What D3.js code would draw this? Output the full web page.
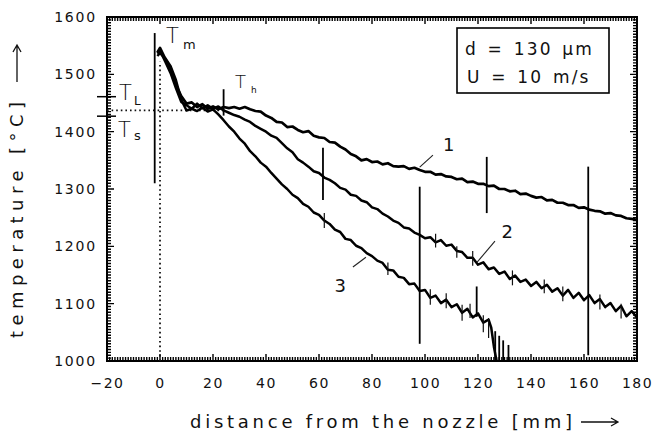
<!DOCTYPE html>
<html>
<head>
<meta charset="utf-8">
<script src="https://cdn.jsdelivr.net/npm/d3@7"></script>
<style>
  body { margin: 0; background: #fff; }
  svg { display: block; font-family: "DejaVu Sans", sans-serif; }
</style>
</head>
<body>
<svg width="657" height="438"></svg>
<script>
// tick labels
const xTicks = [-20, 0, 20, 40, 60, 80, 100, 120, 140, 160, 180];
const yTicks = [1000, 1100, 1200, 1300, 1400, 1500, 1600];

// sampling positions (mm)
const dist = [-1, 0, 2, 4, 6, 8, 10, 12, 14, 16, 18, 20, 22, 24, 26, 28, 30, 32, 34, 36, 38, 40,
  42, 44, 46, 48, 50, 52, 54, 56, 58, 60, 62, 64, 66, 68, 70, 72, 74, 76, 78, 80,
  82, 84, 86, 88, 90, 92, 94, 96, 98, 100, 102, 104, 106, 108, 110, 112, 114, 116, 118, 120,
  122, 124, 126, 128, 130, 132, 134, 136, 138, 140, 142, 144, 146, 148, 150, 152, 154, 156, 158, 160,
  162, 164, 166, 168, 170, 172, 174, 176, 178, 180];
const dist3 = [-1, 0, 2, 4, 6, 8, 10, 12, 14, 16, 18, 20, 22, 24, 26, 28, 30, 32, 34, 36, 38, 40,
  42, 44, 46, 48, 50, 52, 54, 56, 58, 60, 62, 64, 66, 68, 70, 72, 74, 76, 78, 80,
  82, 84, 86, 88, 90, 92, 94, 96, 98, 100, 102, 104, 106, 108, 110, 112, 114, 116, 118, 120,
  122, 124, 125, 126, 127];

// temperatures (°C)
const temp1 = [1538, 1546, 1527, 1510, 1482, 1462, 1449, 1451, 1443, 1448, 1440, 1444, 1439, 1443, 1441, 1443, 1440, 1443, 1439, 1436, 1435, 1428,
  1424, 1417, 1416, 1408, 1409, 1403, 1399, 1401, 1393, 1390, 1389, 1382, 1381, 1374, 1369, 1361, 1357, 1350, 1352, 1347,
  1348, 1343, 1345, 1340, 1339, 1340, 1335, 1337, 1333, 1330, 1330, 1325, 1326, 1322, 1321, 1317, 1318, 1312, 1313, 1309,
  1309, 1305, 1306, 1300, 1300, 1296, 1297, 1291, 1292, 1288, 1285, 1286, 1280, 1281, 1276, 1276, 1272, 1272, 1267, 1268,
  1264, 1262, 1261, 1257, 1258, 1254, 1253, 1249, 1248, 1246];
const temp2 = [1536, 1541, 1522, 1502, 1476, 1452, 1446, 1440, 1449, 1441, 1446, 1440, 1444, 1437, 1433, 1429, 1426, 1421, 1417, 1410, 1405, 1400,
  1393, 1389, 1380, 1371, 1364, 1352, 1346, 1339, 1331, 1328, 1320, 1316, 1310, 1302, 1299, 1290, 1288, 1280, 1277, 1268,
  1265, 1257, 1252, 1245, 1241, 1233, 1231, 1224, 1220, 1214, 1216, 1207, 1211, 1201, 1203, 1192, 1190, 1180, 1180, 1168,
  1172, 1160, 1163, 1152, 1156, 1143, 1149, 1138, 1142, 1131, 1138, 1127, 1133, 1121, 1127, 1114, 1124, 1110, 1119, 1106,
  1115, 1101, 1108, 1094, 1101, 1087, 1096, 1078, 1087, 1076];
const temp3 = [1532, 1537, 1528, 1514, 1490, 1456, 1437, 1440, 1436, 1442, 1435, 1439, 1430, 1420, 1409, 1400, 1388, 1379, 1366, 1357, 1346, 1339,
  1328, 1318, 1308, 1300, 1290, 1284, 1274, 1269, 1259, 1255, 1245, 1239, 1229, 1225, 1213, 1211, 1201, 1197, 1188, 1183,
  1175, 1171, 1159, 1158, 1147, 1145, 1134, 1135, 1122, 1124, 1110, 1114, 1101, 1107, 1094, 1099, 1084, 1091, 1076, 1083,
  1067, 1072, 1058, 1025, 1000];

// thermocouple spikes: position, low end, high end
const spikeX = [-2, 24, 61.5, 98, 119.5, 123.3, 161.6, 126.5, 128, 129.5, 131.5];
const spikeLo = [1310, 1428, 1281, 1030, 1077, 1258, 1010, 1000, 1000, 1000, 1000];
const spikeHi = [1572, 1474, 1372, 1304, 1130, 1356, 1339, 1052, 1044, 1036, 1028];

// short noise hairs on curves 2 and 3
const hairX = [104, 112, 118, 133, 145, 152, 166, 174, 62, 86, 102, 108, 114, 117, 122, 124];
const hairLo = [1198, 1180, 1166, 1132, 1118, 1104, 1090, 1074, 1232, 1150, 1098, 1092, 1070, 1075, 1050, 1040];
const hairHi = [1222, 1200, 1192, 1158, 1142, 1130, 1116, 1100, 1258, 1172, 1125, 1118, 1098, 1100, 1080, 1075];

// curve numbers and their leader lines
const curveNames = ['1', '2', '3'];
const nameX = [109, 131, 68];
const nameT = [1378, 1226, 1132];
const leadX0 = [98, 119.6, 72.8], leadT0 = [1338, 1172, 1164];
const leadX1 = [103, 126.4, 77.7], leadT1 = [1359, 1209, 1181];

const legendLines = ['d = 130 \u03bcm', 'U = 10 m/s'];

const svg = d3.select('svg');
const x = d3.scaleLinear().domain([-20, 180]).range([107, 637]);
const y = d3.scaleLinear().domain([1000, 1600]).range([361, 17]);
const plotL = x(-20), plotR = x(180), plotB = y(1000), plotT = y(1600);

// tick labels
svg.append('g').attr('transform', `translate(0,${plotB})`)
  .call(d3.axisBottom(x).tickValues(xTicks).tickSize(0).tickPadding(17)
    .tickFormat(d => d < 0 ? '\u2212' + (-d) : String(d)))
  .call(g => g.select('.domain').remove())
  .selectAll('text').attr('font-size', 14).attr('font-family', '"DejaVu Sans", sans-serif')
  .attr('letter-spacing', 1.5).attr('fill', '#111');
svg.append('g').attr('transform', `translate(${plotL},0)`)
  .call(d3.axisLeft(y).tickValues(yTicks).tickSize(0).tickPadding(10).tickFormat(d3.format('d')))
  .call(g => g.select('.domain').remove())
  .selectAll('text').attr('font-size', 14).attr('font-family', '"DejaVu Sans", sans-serif')
  .attr('letter-spacing', 1.8).attr('fill', '#111');

// frame
svg.append('rect').attr('x', plotL).attr('y', plotT)
  .attr('width', plotR - plotL).attr('height', plotB - plotT)
  .attr('fill', 'none').attr('stroke', '#000').attr('stroke-width', 2);

// inward ticks on all four sides, one path
const tp = d3.path();
function xMarks(vals, len) {
  for (const v of vals) {
    tp.moveTo(x(v), plotB); tp.lineTo(x(v), plotB - len);
    tp.moveTo(x(v), plotT); tp.lineTo(x(v), plotT + len);
  }
}
function yMarks(vals, len) {
  for (const v of vals) {
    tp.moveTo(plotL, y(v)); tp.lineTo(plotL + len, y(v));
    tp.moveTo(plotR, y(v)); tp.lineTo(plotR - len, y(v));
  }
}
xMarks(x.ticks(200), 4);
yMarks(y.ticks(120), 4);
xMarks(xTicks, 7);
yMarks(yTicks, 7);
svg.append('path').attr('d', tp.toString())
  .attr('fill', 'none').attr('stroke', '#000').attr('stroke-width', 1.4);

// dotted guide lines (nozzle position, solidus/liquidus level)
svg.append('line').attr('x1', x(0)).attr('x2', x(0)).attr('y1', plotB).attr('y2', y(1522))
  .attr('stroke', '#111').attr('stroke-width', 1.8).attr('stroke-dasharray', '1.6,3');
svg.append('line').attr('x1', plotL).attr('x2', x(24)).attr('y1', y(1437)).attr('y2', y(1437))
  .attr('stroke', '#111').attr('stroke-width', 1.8).attr('stroke-dasharray', '1.6,3');

// T_L and T_s marks on the axis
[1461, 1427].forEach(t => {
  svg.append('line').attr('x1', 97).attr('x2', 116).attr('y1', y(t)).attr('y2', y(t))
    .attr('stroke', '#000').attr('stroke-width', 1.5);
});

svg.append('clipPath').attr('id', 'plot').append('rect')
  .attr('x', plotL).attr('y', plotT).attr('width', plotR - plotL).attr('height', plotB - plotT);

const line = d3.line().x(d => x(d[0])).y(d => y(d[1]));
const series = [d3.zip(dist, temp1), d3.zip(dist, temp2), d3.zip(dist3, temp3)];
const plot = svg.append('g').attr('clip-path', 'url(#plot)');
plot.selectAll('path.curve').data(series).join('path')
  .attr('class', 'curve')
  .attr('d', line)
  .attr('fill', 'none').attr('stroke', '#000').attr('stroke-width', (d, i) => i ? 2.5 : 2.7)
  .attr('stroke-linejoin', 'round');

plot.selectAll('line.spike').data(spikeX).join('line')
  .attr('class', 'spike')
  .attr('x1', d => x(d)).attr('x2', d => x(d))
  .attr('y1', (d, i) => y(spikeLo[i])).attr('y2', (d, i) => y(spikeHi[i]))
  .attr('stroke', '#000').attr('stroke-width', 1.8);

plot.selectAll('line.hair').data(hairX).join('line')
  .attr('class', 'hair')
  .attr('x1', d => x(d)).attr('x2', d => x(d))
  .attr('y1', (d, i) => y(hairLo[i])).attr('y2', (d, i) => y(hairHi[i]))
  .attr('stroke', '#111').attr('stroke-width', 1.2);

// curve numbers
curveNames.forEach((n, i) => {
  svg.append('line').attr('x1', x(leadX0[i])).attr('y1', y(leadT0[i]))
    .attr('x2', x(leadX1[i])).attr('y2', y(leadT1[i]))
    .attr('stroke', '#222').attr('stroke-width', 1.1);
  svg.append('text').attr('x', x(nameX[i])).attr('y', y(nameT[i]) + 7)
    .attr('text-anchor', 'middle').attr('font-size', 18).attr('fill', '#111').text(n);
});

// T labels
function tLabel(px, py, size, sub, subSize, dx, dy) {
  svg.append('text').attr('x', px).attr('y', py).attr('font-size', size)
    .attr('font-weight', 300).attr('fill', '#111').text('T');
  svg.append('text').attr('x', px + dx).attr('y', py + dy).attr('font-size', subSize)
    .attr('fill', '#111').text(sub);
}
tLabel(166, 43, 21, 'm', 13, 17, 6);
tLabel(119, 100, 21, 'L', 12, 15, 5);
tLabel(118, 137, 21, 's', 13, 16, 3);
tLabel(235, 88, 18, 'h', 9, 16, 5);

// parameter box
svg.append('rect').attr('x', 457).attr('y', 28).attr('width', 152).attr('height', 65)
  .attr('fill', '#fff').attr('stroke', '#000').attr('stroke-width', 1.6);
svg.selectAll('text.leg').data(legendLines).join('text')
  .attr('class', 'leg')
  .attr('x', (d, i) => i ? 467 : 465).attr('y', (d, i) => 55 + i * 28)
  .attr('font-size', 17).attr('letter-spacing', 2.2).attr('word-spacing', 2)
  .attr('fill', '#111').text(d => d);

// axis titles with long arrows
svg.append('text').attr('transform', 'translate(23,338) rotate(-90)')
  .attr('font-size', 18).attr('fill', '#111')
  .attr('textLength', 236).attr('lengthAdjust', 'spacing')
  .text('temperature [\u00b0C]');
svg.append('path').attr('d', 'M17,82 V45 M13,52 L17,45 L21,52')
  .attr('fill', 'none').attr('stroke', '#111').attr('stroke-width', 1.3);

svg.append('text').attr('x', 190).attr('y', 428)
  .attr('font-size', 18).attr('fill', '#111')
  .attr('textLength', 382).attr('lengthAdjust', 'spacing')
  .text('distance from the nozzle [mm]');
svg.append('path').attr('d', 'M581,422 H618 M611,418 L618,422 L611,426')
  .attr('fill', 'none').attr('stroke', '#111').attr('stroke-width', 1.3);
</script>
</body>
</html>
